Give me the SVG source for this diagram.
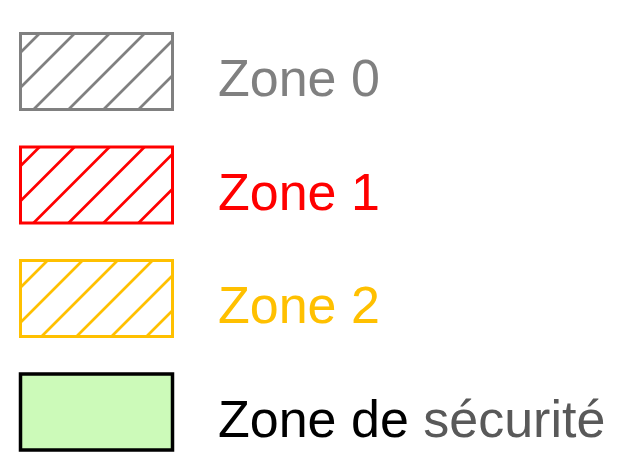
<svg xmlns="http://www.w3.org/2000/svg" width="621" height="453" viewBox="0 0 621 453">
  <style>
    .box { fill: none; stroke-width: 3; }
    .hz { stroke-width: 2.6; }
    .lbl { font-family: "Liberation Sans", Arial, sans-serif; font-size: 52px; }
  </style>
  <defs>
    <g id="hatchA">
      <line x1="19" y1="0" x2="0" y2="19"/>
      <line x1="54" y1="0" x2="0" y2="54"/>
      <line x1="89" y1="0" x2="13" y2="76"/>
      <line x1="124" y1="0" x2="48" y2="76"/>
      <line x1="152" y1="7" x2="83" y2="76"/>
      <line x1="152" y1="42" x2="118" y2="76"/>
    </g>
    <g id="hatchB">
      <line x1="27" y1="0" x2="0" y2="27"/>
      <line x1="62" y1="0" x2="0" y2="62"/>
      <line x1="97" y1="0" x2="21" y2="76"/>
      <line x1="132" y1="0" x2="56" y2="76"/>
      <line x1="152" y1="15" x2="91" y2="76"/>
      <line x1="152" y1="50" x2="126" y2="76"/>
    </g>
  </defs>

  <g id="zone0">
    <use class="hz" href="#hatchA" transform="translate(20.5,33.5)" stroke="#808080"/>
    <rect class="box" x="20.5" y="33.5" width="152" height="76" stroke="#808080"/>
    <text class="lbl" x="218" y="96" fill="#808080">Zone 0</text>
  </g>

  <g id="zone1">
    <use class="hz" href="#hatchA" transform="translate(20.5,147)" stroke="#ff0000"/>
    <rect class="box" x="20.5" y="147" width="152" height="76" stroke="#ff0000"/>
    <text class="lbl" x="218" y="209.5" fill="#ff0000">Zone 1</text>
  </g>

  <g id="zone2">
    <use class="hz" href="#hatchB" transform="translate(20.5,260.5)" stroke="#ffc000"/>
    <rect class="box" x="20.5" y="260.5" width="152" height="76" stroke="#ffc000"/>
    <text class="lbl" x="218" y="323" fill="#ffc000">Zone 2</text>
  </g>

  <g id="zone-securite">
    <rect x="20.5" y="374" width="152" height="76" fill="#ccfab9" stroke="#000000" stroke-width="3.5"/>
    <text class="lbl" x="218" y="436.5" fill="#000000">Zone de <tspan fill="#595959">sécurité</tspan></text>
  </g>

  <g id="connectors"/>
</svg>
